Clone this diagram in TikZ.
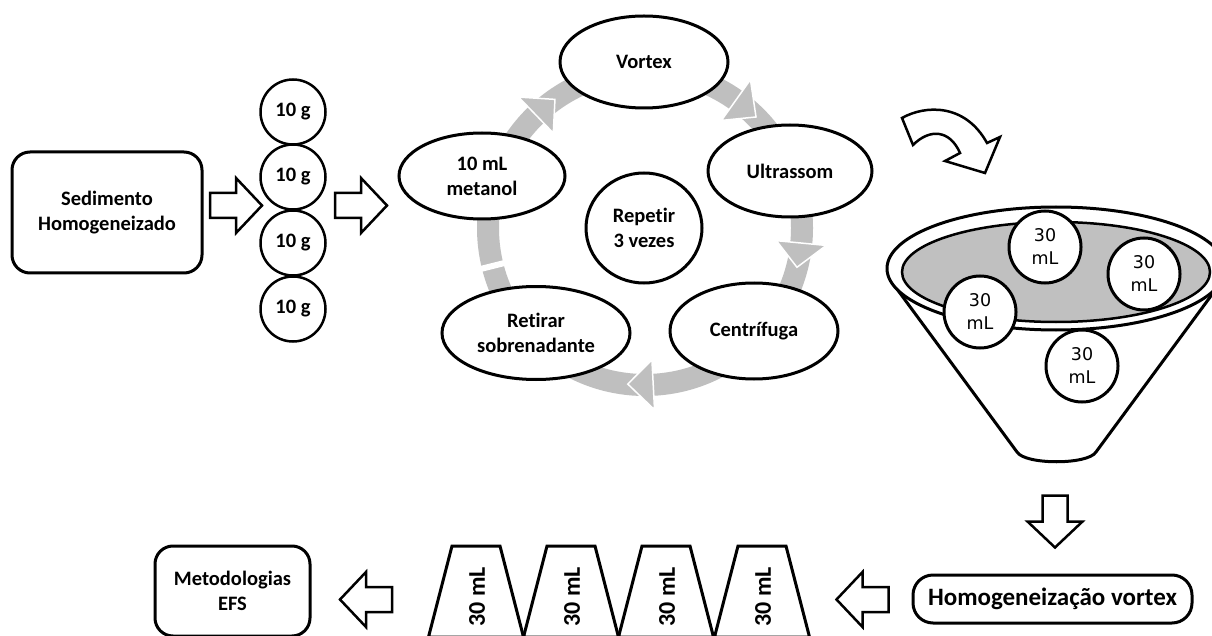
\documentclass[tikz,border=0pt]{standalone}
\usepackage{fontspec}
\setmainfont{Carlito}[Ligatures=NoCommon]
\newfontfamily\dvs{DejaVu Sans}
\usetikzlibrary{shapes.geometric}
\definecolor{ringgray}{RGB}{191,191,191}
\definecolor{fungray}{RGB}{192,192,192}
\begin{document}
\begin{tikzpicture}[x=1pt,y=-1pt,
  lbl/.style={font=\bfseries\fontsize{20.5}{25}\selectfont, align=center},
  rbox/.style={lbl, draw, line width=3pt, rounded corners=18pt, fill=white, inner sep=0pt},
  ell/.style={lbl, ellipse, draw, line width=3pt, fill=white, inner sep=0pt},
  gcirc/.style={lbl, circle, draw, line width=2.5pt, fill=white, minimum size=65pt, inner sep=0pt},
  mlcirc/.style={circle, draw, line width=3pt, fill=white, minimum size=72pt, inner sep=0pt, align=center, font=\dvs\fontsize{17.5}{23}\selectfont},
  tubetxt/.style={font=\bfseries\fontsize{24}{28}\selectfont, rotate=90},
  tubeline/.style={line width=3pt, line join=miter},
  hollowarr/.pic={\draw[line width=2.5pt, fill=white, line join=miter]
     (-26,-12.5) -- (0,-12.5) -- (0,-27.5) -- (26,0) -- (0,27.5) -- (0,12.5) -- (-26,12.5) -- cycle;}]
\useasboundingbox (0,0) rectangle (1212,636);
\clip (0,0) rectangle (1212,636);
\fill[white] (0,0) rectangle (1212,636);

% left part
\node[rbox, minimum width=190pt, minimum height=121pt] (sed) at (107,212.5) {Sedimento\\Homogeneizado};
\pic at (236,205.5) {hollowarr};
\node[gcirc] (g1) at (293,112) {10 g};
\node[gcirc] (g2) at (293,177) {10 g};
\node[gcirc] (g3) at (293,243) {10 g};
\node[gcirc] (g4) at (293,309) {10 g};
\pic at (361,205.5) {hollowarr};

% cycle ring
\begin{scope}[shift={(645,228)}]
  \draw[ringgray, line width=22pt] (0,0) circle[radius=157];
  \foreach \t/\b in {-125/-134, -45/-54.6, 14.5/5.5, 96.3/87}{
    \filldraw[fill=ringgray, draw=white, line width=1.5pt] (\t:157) -- (\b:182) -- (\b:132) -- cycle;}
  \draw[white, line width=6pt] (166:138) -- (166:176);
\end{scope}

\node[ell, minimum width=168pt, minimum height=92pt] (vor) at (644,62) {Vortex};
\node[ell, minimum width=166pt, minimum height=86pt] (met) at (482,176) {10 mL\\metanol};
\node[ell, minimum width=164pt, minimum height=92pt] (ult) at (790,171) {Ultrassom};
\node[ell, minimum width=168pt, minimum height=96pt] (cen) at (754,331) {Centrífuga};
\node[ell, minimum width=188pt, minimum height=93pt] (ret) at (536,333) {Retirar\\sobrenadante};
\node[ell, minimum width=116pt, minimum height=110pt] (rep) at (644,228) {Repetir\\3 vezes};

% curved arrow
\draw[line width=2.5pt, fill=white, line join=miter]
  (902,118) .. controls (925,105) and (965,103) .. (987,143) -- (1000,137) -- (985,173)
  -- (945,161) -- (960,153) .. controls (950,130) and (930,128) .. (913,145) -- cycle;

% funnel
\draw[line width=3pt, fill=white, line join=round] (894,285) -- (1017,452) .. controls (1025,465) and (1088,465) .. (1096,452) -- (1219,285) -- cycle;
\draw[line width=3pt, fill=white] (1056,268.5) ellipse[x radius=169, y radius=61.5];
\draw[line width=2.5pt, fill=fungray] (1056,272) ellipse[x radius=154, y radius=50];
\node[mlcirc] (m1) at (1045,247) {30\\mL};
\node[mlcirc] (m2) at (1144,274) {30\\mL};
\node[mlcirc] (m3) at (980,312) {30\\mL};
\node[mlcirc] (m4) at (1082,366) {30\\mL};

% bottom row
\pic[rotate=-90] at (1055,521.5) {hollowarr};
\node[rbox, rounded corners=20pt, minimum width=279pt, minimum height=48pt, font=\bfseries\fontsize{25}{28}\selectfont] (hom) at (1052.5,599) {Homogeneização vortex};
\pic[rotate=180] at (862.5,599.5) {hollowarr};
\foreach \c [count=\i] in {476,571,666,762}{
  \draw[tubeline] (\c-47.5,637) -- (\c-24,546) -- (\c+24,546) -- (\c+47.5,637) -- cycle;
  \node[tubetxt] (t\i) at (\c+1,597) {30 mL};
}
\pic[rotate=180] at (366,599.5) {hollowarr};
\node[rbox, minimum width=155pt, minimum height=90pt] (efs) at (232.5,591) {Metodologias\\EFS};
\end{tikzpicture}
\end{document}
